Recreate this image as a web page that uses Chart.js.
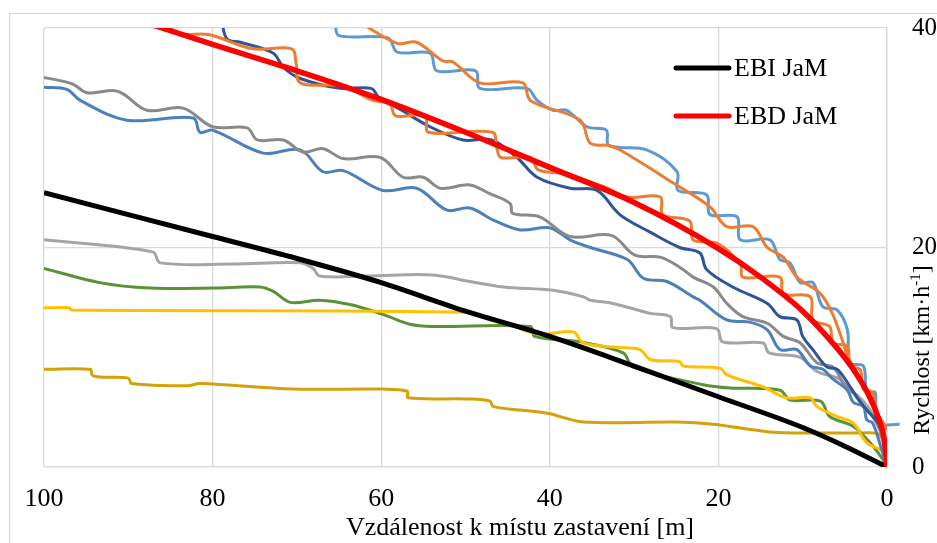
<!DOCTYPE html>
<html>
<head>
<meta charset="utf-8">
<script src="https://cdn.jsdelivr.net/npm/chart.js"></script>
<style>
  body { margin: 0; background: #fff; }
</style>
</head>
<body>
<canvas id="myChart" width="937" height="543"></canvas>
<script>
// values: [distance m, speed km/h]
const ebiJam = [[0,0],[5,1.9],[10,3.6],[20,6.4],[30,9.2],[40,11.9],[50,14.2],[60,16.8],[70,19.0],[80,21.0],[90,23.0],[100,25.0]];
const ebdJam = [[0,0],[0.3,2.4],[1,4.4],[2,6.3],[4,8.9],[6,10.9],[10,14.2],[15,17.3],[20,19.9],[30,24.1],[40,27.3],[50,30.5],[60,33.5],[70,36.1],[80,38.5],[90,41.0]];

const run1 = [[79.0,41.0],[78.3,39.0],[76.7,38.7],[72.8,37.7],[71.6,36.4],[69.6,35.4],[64.9,34.5],[61.2,34.5],[60.2,33.6],[57.8,32.6],[54.2,31.0],[50.3,29.8],[46.9,29.8],[43.9,28.2],[41.5,26.4],[37.6,25.4],[34.4,25.2],[31.7,23.0],[28.1,21.4],[24.6,20.0],[22.2,19.5],[21.4,18.0],[18.3,16.4],[14.2,14.9],[12.7,13.7],[10.7,13.4],[10.0,11.9],[8.8,10.7],[7.1,9.1],[5.9,8.9],[4.7,7.7],[3.6,6.4],[2.4,5.2],[0.8,3.7],[0.2,1.6],[0,0]];
const run2 = [[86.5,40.8],[83.9,39.5],[80.5,39.4],[75.2,38.1],[70.6,38.1],[70.1,36.8],[69.6,35.0],[64.5,34.7],[61.0,33.4],[59.0,33.1],[58.3,32.0],[54.8,32.0],[54.4,30.5],[46.8,30.5],[46.3,29.1],[45.8,28.2],[42.3,28.2],[41.4,27.1],[38.4,26.7],[33.7,25.6],[30.8,24.6],[26.9,24.6],[26.6,23.0],[23.4,22.4],[23.0,20.7],[20.2,20.4],[17.4,18.5],[17.1,17.3],[12.7,17.3],[12.3,15.8],[9.1,15.5],[8.8,13.4],[6.8,12.8],[6.4,11.3],[4.7,11.0],[4.4,9.2],[3.2,8.9],[2.8,7.1],[1.7,6.8],[1.2,5.0],[0.3,3.8],[0,3.4]];
const run3 = [[65.5,40.5],[65.0,39.3],[59.2,39.1],[58.1,37.8],[54.2,37.7],[53.4,36.1],[48.8,36.1],[48.3,34.5],[42.7,34.5],[41.5,33.4],[39.6,32.5],[38.0,32.5],[35.6,31.0],[33.3,30.7],[33.0,29.3],[28.5,28.9],[24.9,26.9],[24.8,25.2],[21.4,24.8],[21.0,23.0],[17.8,22.8],[17.4,20.7],[13.9,20.7],[12.7,18.9],[11.5,18.6],[10.3,16.8],[8.8,16.8],[7.6,14.6],[5.9,14.3],[4.7,12.5],[4.4,9.5],[2.8,9.2],[2.4,6.8],[1.4,6.8],[1.2,4.0],[-1.5,3.9]];
const run4 = [[62.5,40.5],[58.1,38.6],[55.8,38.7],[52.7,37.0],[51.5,36.9],[48.3,35.0],[43.2,35.0],[42.3,33.4],[36.4,31.6],[35.2,29.5],[33.0,29.3],[31.7,28.9],[25.4,25.9],[21.0,23.7],[19.0,21.9],[15.9,21.9],[14.2,20.0],[12.3,19.1],[10.7,17.3],[7.9,15.8],[6.5,14.0],[5.5,12.0],[4.6,10.0],[3.2,8.0],[2.0,6.0],[0.9,4.5],[0,3.5]];
const run5 = [[100,35.5],[96.6,34.9],[94.9,34.1],[91.8,34.3],[90.6,34.0],[87.8,32.5],[83.5,32.7],[80.0,31.0],[75.9,30.9],[74.7,29.8],[71.6,29.8],[69.3,28.7],[66.9,29.0],[64.5,28.1],[60.1,28.2],[57.4,26.4],[55.0,26.4],[53.0,25.4],[49.5,25.7],[47.1,24.9],[44.7,24.0],[44.4,23.1],[41.2,22.8],[37.6,21.0],[32.7,21.1],[29.9,19.3],[26.8,19.1],[24.2,18.0],[23.0,17.3],[20.6,16.4],[19.0,14.9],[17.1,13.7],[14.2,13.1],[12.3,11.9],[10.3,11.3],[8.3,9.5],[6.4,9.1],[5.2,7.7],[4.0,6.8],[2.8,5.5],[1.7,4.6],[0.6,2.8],[0.2,0.4],[0,0]];
const run6 = [[100,34.6],[97.3,34.4],[95.7,33.4],[90.2,31.6],[82.3,31.8],[81.5,30.5],[80.0,30.7],[74.0,28.6],[69.6,28.9],[66.9,26.9],[64.5,27.0],[59.8,25.2],[55.8,25.4],[52.2,23.4],[49.5,23.6],[46.7,22.5],[43.5,21.6],[40.0,21.8],[37.6,20.7],[35.2,20.0],[30.8,18.9],[28.9,17.2],[26.1,16.9],[23.0,15.5],[22.2,15.2],[19.0,13.4],[16.3,13.2],[14.2,12.5],[12.7,10.7],[10.7,10.7],[9.1,9.2],[7.6,8.9],[6.4,8.0],[4.7,7.0],[4.0,5.9],[2.8,5.5],[2.4,4.3],[1.7,4.0],[0.8,2.0],[0,0]];
const run7 = [[100,20.7],[87.1,19.6],[86.2,18.6],[77.6,18.5],[69.6,18.6],[68.1,18.1],[67.3,17.4],[61.7,17.4],[53.9,17.5],[49.5,16.9],[45.5,16.4],[39.6,16.1],[36.0,15.5],[35.2,15.2],[32.5,14.9],[28.1,14.0],[25.7,13.7],[25.4,12.7],[20.2,12.6],[19.5,11.4],[14.7,11.3],[14.0,10.4],[10.3,10.0],[8.3,8.7],[5.6,8.0],[4.7,7.0],[3.6,6.6],[2.0,5.2],[0.8,3.4],[0,1.0]];
const run8 = [[100,18.1],[93.4,16.8],[87.4,16.3],[80.0,16.3],[74.4,16.4],[72.8,16.0],[70.8,15.0],[67.3,15.2],[63.7,14.8],[59.8,13.9],[56.6,13.0],[53.9,12.8],[42.3,12.8],[41.8,11.9],[36.4,11.4],[31.3,10.4],[30.1,9.1],[21.8,7.5],[18.6,7.2],[12.7,7.0],[11.5,6.1],[7.9,6.0],[6.8,4.6],[4.0,3.7],[2.0,2.2],[0.5,0.7],[0,0]];
const run9 = [[100,14.5],[97.0,14.5],[96.7,14.3],[49.8,14.1],[47.5,13.5],[44.5,12.9],[42.0,12.2],[40.5,12.1],[37.2,12.3],[36.0,11.3],[32.0,10.9],[29.3,10.7],[28.1,9.8],[24.6,9.6],[24.2,9.2],[19.8,9.0],[19.0,8.4],[14.7,7.3],[11.9,6.3],[9.1,6.3],[8.3,5.5],[5.9,4.6],[4.0,4.0],[2.4,2.2],[0.5,1.4],[0,0.2]];
const run10 = [[100,8.9],[94.5,8.9],[94.3,8.4],[93.4,8.2],[90.0,8.1],[89.6,7.6],[83.0,7.4],[81.5,7.6],[70.5,7.1],[59.8,7.1],[56.9,6.9],[56.8,6.3],[49.8,6.2],[47.1,6.0],[46.7,5.5],[40.3,4.9],[36.0,4.1],[24.9,4.1],[20.6,3.9],[13.9,3.2],[7.9,3.1],[3.2,3.1],[1.0,3.0],[0.3,2.0],[0,0.5]];

const xTicks = [100, 80, 60, 40, 20, 0];
const yTicks = [0, 20, 40];
const legendNames = ['EBI JaM', 'EBD JaM'];

const serif = '"Liberation Serif", "Times New Roman", serif';

const toXY = arr => arr.map(p => ({x: p[0], y: p[1]}));

// thin measured runs
const runLine = (label, arr, color) => ({
    label: label,
    data: toXY(arr),
    borderColor: color,
    borderWidth: 3,
    pointRadius: 0,
    tension: 0.35,
    fill: false
});

// chart border and the texts that Chart.js can't place like the original
const decor = {
    id: 'decor',
    beforeDraw(chart) {
        const c = chart.ctx;
        c.save();
        c.fillStyle = '#fff';
        c.fillRect(0, 0, chart.width, chart.height);
        c.strokeStyle = '#d9d9d9';
        c.lineWidth = 1.3;
        c.strokeRect(9.5, 13.5, 1000, 1000);
        c.restore();
    },
    afterDraw(chart) {
        const c = chart.ctx;
        c.save();
        c.fillStyle = '#000';

        // legend (only EBI / EBD)
        legendNames.forEach((name, i) => {
            const d = chart.data.datasets.find(ds => ds.label === name);
            const y = 68 + i * 48;
            c.strokeStyle = d.borderColor;
            c.lineWidth = 5;
            c.lineCap = 'round';
            c.beginPath();
            c.moveTo(676, y);
            c.lineTo(729, y);
            c.stroke();
            c.font = '26px ' + serif;
            c.textBaseline = 'alphabetic';
            c.fillText(name, 734, y + 8);
        });

        // x axis title
        c.font = '26px ' + serif;
        c.textAlign = 'center';
        c.fillText('Vzdálenost k místu zastavení [m]', 520, 535);

        // y axis title, reads bottom to top
        c.translate(929, 350);
        c.rotate(-Math.PI / 2);
        const main = 'Rychlost [km·h';
        const sup = '-1';
        const end = ']';
        c.font = '24px ' + serif;
        const w1 = c.measureText(main).width;
        const w3 = c.measureText(end).width;
        c.font = '15px ' + serif;
        const w2 = c.measureText(sup).width;
        let x = -(w1 + w2 + w3) / 2;
        c.textAlign = 'left';
        c.font = '24px ' + serif;
        c.fillText(main, x, 0);
        c.font = '15px ' + serif;
        c.fillText(sup, x + w1, -9);
        c.font = '24px ' + serif;
        c.fillText(end, x + w1 + w2, 0);
        c.restore();
    }
};

var ctx = document.getElementById('myChart').getContext('2d');
var myChart = new Chart(ctx, {
    type: 'line',
    data: {
        datasets: [
            { label: 'EBD JaM', data: toXY(ebdJam), borderColor: '#ff0000', borderWidth: 5.5, pointRadius: 0, cubicInterpolationMode: 'monotone', fill: false },
            { label: 'EBI JaM', data: toXY(ebiJam), borderColor: '#000000', borderWidth: 5, pointRadius: 0, cubicInterpolationMode: 'monotone', fill: false },
            runLine('run2', run2, '#ed7d31'),
            runLine('run1', run1, '#2e5597'),
            runLine('run4', run4, '#ed7d31'),
            Object.assign(runLine('run3', run3, '#5b9bd5'), { clip: {left: 0, top: 0, right: false, bottom: 0} }),
            runLine('run5', run5, '#8a8a8a'),
            runLine('run6', run6, '#4a80bb'),
            runLine('run7', run7, '#a5a5a5'),
            runLine('run9', run9, '#ffc000'),
            runLine('run8', run8, '#5b9237'),
            runLine('run10', run10, '#d4a10a')
        ]
    },
    options: {
        responsive: false,
        animation: false,
        layout: { padding: { left: 44, top: 28, right: 0, bottom: 0 } },
        plugins: {
            legend: { display: false },
            tooltip: { enabled: false }
        },
        scales: {
            x: {
                type: 'linear',
                reverse: true,
                min: 0,
                max: 100,
                afterFit: s => { s.height = 76; },
                afterBuildTicks: s => { s.ticks = xTicks.map(v => ({value: v})); },
                grid: { color: '#d9d9d9', lineWidth: 1.3, drawTicks: false },
                border: { color: '#d9d9d9', width: 1.3 },
                ticks: { color: '#000', padding: 17, maxRotation: 0, font: { family: serif, size: 26 } }
            },
            y: {
                type: 'linear',
                position: 'right',
                min: 0,
                max: 40,
                afterFit: s => { s.width = 50; s.paddingTop = 0; s.paddingBottom = 0; },
                afterBuildTicks: s => { s.ticks = yTicks.map(v => ({value: v})); },
                grid: { color: '#d9d9d9', lineWidth: 1.3, drawTicks: false },
                border: { color: '#d9d9d9', width: 1.3 },
                ticks: { color: '#000', padding: 25, font: { family: serif, size: 25 } }
            }
        }
    },
    plugins: [decor]
});
</script>
</body>
</html>
